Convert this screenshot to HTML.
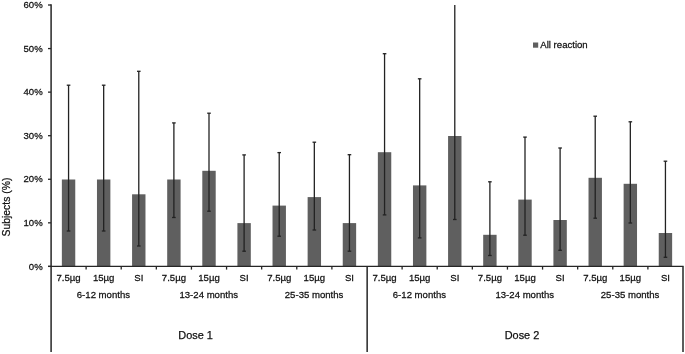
<!DOCTYPE html>
<html><head><meta charset="utf-8"><style>
html,body{margin:0;padding:0;background:#fff;}
body{width:685px;height:354px;overflow:hidden;}
svg{display:block;filter:blur(0.35px);font-family:"Liberation Sans",sans-serif;}
text{fill:#111111;stroke:#111111;stroke-width:0.25px;}
</style></head><body>
<svg width="685" height="354" viewBox="0 0 685 354">
<rect x="61.86" y="179.50" width="13.40" height="86.90" fill="#5f5f5f"/>
<rect x="96.97" y="179.50" width="13.40" height="86.90" fill="#5f5f5f"/>
<rect x="132.08" y="194.30" width="13.40" height="72.10" fill="#5f5f5f"/>
<rect x="167.19" y="179.50" width="13.40" height="86.90" fill="#5f5f5f"/>
<rect x="202.30" y="170.80" width="13.40" height="95.60" fill="#5f5f5f"/>
<rect x="237.41" y="223.10" width="13.40" height="43.30" fill="#5f5f5f"/>
<rect x="272.52" y="205.60" width="13.40" height="60.80" fill="#5f5f5f"/>
<rect x="307.63" y="197.10" width="13.40" height="69.30" fill="#5f5f5f"/>
<rect x="342.74" y="223.10" width="13.40" height="43.30" fill="#5f5f5f"/>
<rect x="377.86" y="152.20" width="13.40" height="114.20" fill="#5f5f5f"/>
<rect x="412.97" y="185.40" width="13.40" height="81.00" fill="#5f5f5f"/>
<rect x="448.08" y="136.00" width="13.40" height="130.40" fill="#5f5f5f"/>
<rect x="483.19" y="234.80" width="13.40" height="31.60" fill="#5f5f5f"/>
<rect x="518.30" y="199.60" width="13.40" height="66.80" fill="#5f5f5f"/>
<rect x="553.41" y="220.00" width="13.40" height="46.40" fill="#5f5f5f"/>
<rect x="588.52" y="177.80" width="13.40" height="88.60" fill="#5f5f5f"/>
<rect x="623.63" y="183.80" width="13.40" height="82.60" fill="#5f5f5f"/>
<rect x="658.74" y="233.00" width="13.40" height="33.40" fill="#5f5f5f"/>
<line x1="68.56" y1="85.20" x2="68.56" y2="231.00" stroke="#222222" stroke-width="1.3"/>
<line x1="66.76" y1="85.20" x2="70.36" y2="85.20" stroke="#222222" stroke-width="1.3"/>
<line x1="66.76" y1="231.00" x2="70.36" y2="231.00" stroke="#222222" stroke-width="1.3"/>
<line x1="103.67" y1="85.20" x2="103.67" y2="231.00" stroke="#222222" stroke-width="1.3"/>
<line x1="101.87" y1="85.20" x2="105.47" y2="85.20" stroke="#222222" stroke-width="1.3"/>
<line x1="101.87" y1="231.00" x2="105.47" y2="231.00" stroke="#222222" stroke-width="1.3"/>
<line x1="138.78" y1="71.30" x2="138.78" y2="246.00" stroke="#222222" stroke-width="1.3"/>
<line x1="136.98" y1="71.30" x2="140.58" y2="71.30" stroke="#222222" stroke-width="1.3"/>
<line x1="136.98" y1="246.00" x2="140.58" y2="246.00" stroke="#222222" stroke-width="1.3"/>
<line x1="173.89" y1="122.90" x2="173.89" y2="217.50" stroke="#222222" stroke-width="1.3"/>
<line x1="172.09" y1="122.90" x2="175.69" y2="122.90" stroke="#222222" stroke-width="1.3"/>
<line x1="172.09" y1="217.50" x2="175.69" y2="217.50" stroke="#222222" stroke-width="1.3"/>
<line x1="209.00" y1="113.20" x2="209.00" y2="211.20" stroke="#222222" stroke-width="1.3"/>
<line x1="207.20" y1="113.20" x2="210.80" y2="113.20" stroke="#222222" stroke-width="1.3"/>
<line x1="207.20" y1="211.20" x2="210.80" y2="211.20" stroke="#222222" stroke-width="1.3"/>
<line x1="244.11" y1="154.90" x2="244.11" y2="251.20" stroke="#222222" stroke-width="1.3"/>
<line x1="242.31" y1="154.90" x2="245.91" y2="154.90" stroke="#222222" stroke-width="1.3"/>
<line x1="242.31" y1="251.20" x2="245.91" y2="251.20" stroke="#222222" stroke-width="1.3"/>
<line x1="279.22" y1="152.60" x2="279.22" y2="236.20" stroke="#222222" stroke-width="1.3"/>
<line x1="277.42" y1="152.60" x2="281.02" y2="152.60" stroke="#222222" stroke-width="1.3"/>
<line x1="277.42" y1="236.20" x2="281.02" y2="236.20" stroke="#222222" stroke-width="1.3"/>
<line x1="314.33" y1="142.20" x2="314.33" y2="230.00" stroke="#222222" stroke-width="1.3"/>
<line x1="312.53" y1="142.20" x2="316.13" y2="142.20" stroke="#222222" stroke-width="1.3"/>
<line x1="312.53" y1="230.00" x2="316.13" y2="230.00" stroke="#222222" stroke-width="1.3"/>
<line x1="349.44" y1="154.70" x2="349.44" y2="251.20" stroke="#222222" stroke-width="1.3"/>
<line x1="347.64" y1="154.70" x2="351.24" y2="154.70" stroke="#222222" stroke-width="1.3"/>
<line x1="347.64" y1="251.20" x2="351.24" y2="251.20" stroke="#222222" stroke-width="1.3"/>
<line x1="384.56" y1="53.70" x2="384.56" y2="214.90" stroke="#222222" stroke-width="1.3"/>
<line x1="382.76" y1="53.70" x2="386.36" y2="53.70" stroke="#222222" stroke-width="1.3"/>
<line x1="382.76" y1="214.90" x2="386.36" y2="214.90" stroke="#222222" stroke-width="1.3"/>
<line x1="419.67" y1="78.80" x2="419.67" y2="237.90" stroke="#222222" stroke-width="1.3"/>
<line x1="417.87" y1="78.80" x2="421.47" y2="78.80" stroke="#222222" stroke-width="1.3"/>
<line x1="417.87" y1="237.90" x2="421.47" y2="237.90" stroke="#222222" stroke-width="1.3"/>
<line x1="454.78" y1="5.00" x2="454.78" y2="219.50" stroke="#222222" stroke-width="1.3"/>
<line x1="452.98" y1="219.50" x2="456.58" y2="219.50" stroke="#222222" stroke-width="1.3"/>
<line x1="489.89" y1="181.80" x2="489.89" y2="255.50" stroke="#222222" stroke-width="1.3"/>
<line x1="488.09" y1="181.80" x2="491.69" y2="181.80" stroke="#222222" stroke-width="1.3"/>
<line x1="488.09" y1="255.50" x2="491.69" y2="255.50" stroke="#222222" stroke-width="1.3"/>
<line x1="525.00" y1="137.10" x2="525.00" y2="235.20" stroke="#222222" stroke-width="1.3"/>
<line x1="523.20" y1="137.10" x2="526.80" y2="137.10" stroke="#222222" stroke-width="1.3"/>
<line x1="523.20" y1="235.20" x2="526.80" y2="235.20" stroke="#222222" stroke-width="1.3"/>
<line x1="560.11" y1="148.00" x2="560.11" y2="250.30" stroke="#222222" stroke-width="1.3"/>
<line x1="558.31" y1="148.00" x2="561.91" y2="148.00" stroke="#222222" stroke-width="1.3"/>
<line x1="558.31" y1="250.30" x2="561.91" y2="250.30" stroke="#222222" stroke-width="1.3"/>
<line x1="595.22" y1="116.20" x2="595.22" y2="218.20" stroke="#222222" stroke-width="1.3"/>
<line x1="593.42" y1="116.20" x2="597.02" y2="116.20" stroke="#222222" stroke-width="1.3"/>
<line x1="593.42" y1="218.20" x2="597.02" y2="218.20" stroke="#222222" stroke-width="1.3"/>
<line x1="630.33" y1="121.80" x2="630.33" y2="223.00" stroke="#222222" stroke-width="1.3"/>
<line x1="628.53" y1="121.80" x2="632.13" y2="121.80" stroke="#222222" stroke-width="1.3"/>
<line x1="628.53" y1="223.00" x2="632.13" y2="223.00" stroke="#222222" stroke-width="1.3"/>
<line x1="665.44" y1="161.20" x2="665.44" y2="257.30" stroke="#222222" stroke-width="1.3"/>
<line x1="663.64" y1="161.20" x2="667.24" y2="161.20" stroke="#222222" stroke-width="1.3"/>
<line x1="663.64" y1="257.30" x2="667.24" y2="257.30" stroke="#222222" stroke-width="1.3"/>
<line x1="51.1" y1="4.3" x2="51.1" y2="352" stroke="#262626" stroke-width="1.5"/>
<line x1="48" y1="266.40" x2="51.0" y2="266.40" stroke="#262626" stroke-width="1.3"/>
<text transform="translate(42.70,269.50) scale(0.9846,1)" text-anchor="end" font-size="9.75">0%</text>
<line x1="48" y1="222.83" x2="51.0" y2="222.83" stroke="#262626" stroke-width="1.3"/>
<text transform="translate(42.70,225.93) scale(0.9846,1)" text-anchor="end" font-size="9.75">10%</text>
<line x1="48" y1="179.27" x2="51.0" y2="179.27" stroke="#262626" stroke-width="1.3"/>
<text transform="translate(42.70,182.37) scale(0.9846,1)" text-anchor="end" font-size="9.75">20%</text>
<line x1="48" y1="135.70" x2="51.0" y2="135.70" stroke="#262626" stroke-width="1.3"/>
<text transform="translate(42.70,138.80) scale(0.9846,1)" text-anchor="end" font-size="9.75">30%</text>
<line x1="48" y1="92.13" x2="51.0" y2="92.13" stroke="#262626" stroke-width="1.3"/>
<text transform="translate(42.70,95.23) scale(0.9846,1)" text-anchor="end" font-size="9.75">40%</text>
<line x1="48" y1="48.57" x2="51.0" y2="48.57" stroke="#262626" stroke-width="1.3"/>
<text transform="translate(42.70,51.67) scale(0.9846,1)" text-anchor="end" font-size="9.75">50%</text>
<line x1="48" y1="5.00" x2="51.0" y2="5.00" stroke="#262626" stroke-width="1.3"/>
<text transform="translate(42.70,7.60) scale(0.9846,1)" text-anchor="end" font-size="9.75">60%</text>
<line x1="48" y1="266.4" x2="683.65" y2="266.4" stroke="#262626" stroke-width="1.3"/>
<line x1="86.11" y1="266.4" x2="86.11" y2="269.6" stroke="#262626" stroke-width="1.3"/>
<line x1="121.22" y1="266.4" x2="121.22" y2="269.6" stroke="#262626" stroke-width="1.3"/>
<line x1="156.33" y1="266.4" x2="156.33" y2="269.6" stroke="#262626" stroke-width="1.3"/>
<line x1="191.44" y1="266.4" x2="191.44" y2="269.6" stroke="#262626" stroke-width="1.3"/>
<line x1="226.56" y1="266.4" x2="226.56" y2="269.6" stroke="#262626" stroke-width="1.3"/>
<line x1="261.67" y1="266.4" x2="261.67" y2="269.6" stroke="#262626" stroke-width="1.3"/>
<line x1="296.78" y1="266.4" x2="296.78" y2="269.6" stroke="#262626" stroke-width="1.3"/>
<line x1="331.89" y1="266.4" x2="331.89" y2="269.6" stroke="#262626" stroke-width="1.3"/>
<line x1="367.15" y1="266.4" x2="367.15" y2="352" stroke="#262626" stroke-width="1.5"/>
<line x1="402.11" y1="266.4" x2="402.11" y2="269.6" stroke="#262626" stroke-width="1.3"/>
<line x1="437.22" y1="266.4" x2="437.22" y2="269.6" stroke="#262626" stroke-width="1.3"/>
<line x1="472.33" y1="266.4" x2="472.33" y2="269.6" stroke="#262626" stroke-width="1.3"/>
<line x1="507.44" y1="266.4" x2="507.44" y2="269.6" stroke="#262626" stroke-width="1.3"/>
<line x1="542.56" y1="266.4" x2="542.56" y2="269.6" stroke="#262626" stroke-width="1.3"/>
<line x1="577.67" y1="266.4" x2="577.67" y2="269.6" stroke="#262626" stroke-width="1.3"/>
<line x1="612.78" y1="266.4" x2="612.78" y2="269.6" stroke="#262626" stroke-width="1.3"/>
<line x1="647.89" y1="266.4" x2="647.89" y2="269.6" stroke="#262626" stroke-width="1.3"/>
<line x1="683.0" y1="266.4" x2="683.0" y2="352" stroke="#262626" stroke-width="1.5"/>
<text transform="translate(68.56,280.90) scale(0.9846,1)" text-anchor="middle" font-size="9.75">7.5µg</text>
<text transform="translate(103.67,280.90) scale(0.9846,1)" text-anchor="middle" font-size="9.75">15µg</text>
<text transform="translate(138.78,280.90) scale(0.9846,1)" text-anchor="middle" font-size="9.75">SI</text>
<text transform="translate(173.89,280.90) scale(0.9846,1)" text-anchor="middle" font-size="9.75">7.5µg</text>
<text transform="translate(209.00,280.90) scale(0.9846,1)" text-anchor="middle" font-size="9.75">15µg</text>
<text transform="translate(244.11,280.90) scale(0.9846,1)" text-anchor="middle" font-size="9.75">SI</text>
<text transform="translate(279.22,280.90) scale(0.9846,1)" text-anchor="middle" font-size="9.75">7.5µg</text>
<text transform="translate(314.33,280.90) scale(0.9846,1)" text-anchor="middle" font-size="9.75">15µg</text>
<text transform="translate(349.44,280.90) scale(0.9846,1)" text-anchor="middle" font-size="9.75">SI</text>
<text transform="translate(384.56,280.90) scale(0.9846,1)" text-anchor="middle" font-size="9.75">7.5µg</text>
<text transform="translate(419.67,280.90) scale(0.9846,1)" text-anchor="middle" font-size="9.75">15µg</text>
<text transform="translate(454.78,280.90) scale(0.9846,1)" text-anchor="middle" font-size="9.75">SI</text>
<text transform="translate(489.89,280.90) scale(0.9846,1)" text-anchor="middle" font-size="9.75">7.5µg</text>
<text transform="translate(525.00,280.90) scale(0.9846,1)" text-anchor="middle" font-size="9.75">15µg</text>
<text transform="translate(560.11,280.90) scale(0.9846,1)" text-anchor="middle" font-size="9.75">SI</text>
<text transform="translate(595.22,280.90) scale(0.9846,1)" text-anchor="middle" font-size="9.75">7.5µg</text>
<text transform="translate(630.33,280.90) scale(0.9846,1)" text-anchor="middle" font-size="9.75">15µg</text>
<text transform="translate(665.44,280.90) scale(0.9846,1)" text-anchor="middle" font-size="9.75">SI</text>
<text transform="translate(103.42,297.50) scale(0.9846,1)" text-anchor="middle" font-size="9.75">6-12 months</text>
<text transform="translate(208.75,297.50) scale(0.9846,1)" text-anchor="middle" font-size="9.75">13-24 months</text>
<text transform="translate(314.08,297.50) scale(0.9846,1)" text-anchor="middle" font-size="9.75">25-35 months</text>
<text transform="translate(419.42,297.50) scale(0.9846,1)" text-anchor="middle" font-size="9.75">6-12 months</text>
<text transform="translate(524.75,297.50) scale(0.9846,1)" text-anchor="middle" font-size="9.75">13-24 months</text>
<text transform="translate(630.08,297.50) scale(0.9846,1)" text-anchor="middle" font-size="9.75">25-35 months</text>
<text transform="translate(195.60,339.20) scale(1.0000,1)" text-anchor="middle" font-size="10.9">Dose 1</text>
<text transform="translate(522.00,339.20) scale(1.0000,1)" text-anchor="middle" font-size="10.9">Dose 2</text>
<text transform="translate(9.7,207) rotate(-90)" text-anchor="middle" font-size="10.4">Subjects (%)</text>
<rect x="533" y="42.5" width="5.2" height="5.2" fill="#5f5f5f"/>
<text transform="translate(540.30,47.80) scale(0.9846,1)" text-anchor="start" font-size="9.75">All reaction</text>
</svg>
</body></html>
